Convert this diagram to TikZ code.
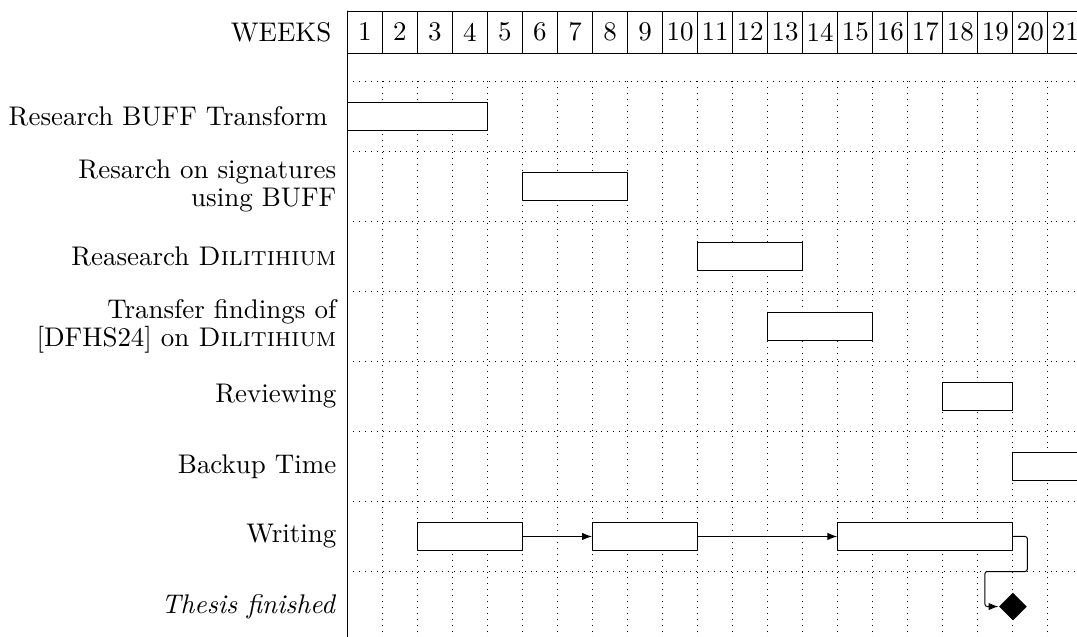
\documentclass[11pt,tikz,border=0pt]{standalone}
\usepackage{tikz}
\usetikzlibrary{arrows.meta}
\usetikzlibrary{shapes.geometric}
\tikzstyle{bar} = [draw, fill=white, inner sep=0pt, minimum height=0.4cm]
\tikzstyle{milestone} = [diamond, fill=black, inner sep=0pt, minimum width=0.4cm, minimum height=0.4cm]
\tikzstyle{task} = [anchor=east, align=right, inner sep=0pt, font=\fontsize{10.95pt}{11.5pt}\selectfont]
\tikzstyle{link} = [-{Latex[length=4pt]}, rounded corners=1pt]
\tikzstyle{gridline} = [dotted, line cap=butt]

\begin{document}
\begin{tikzpicture}[line cap=round, line join=round]
      \clip(-4.957,0.157) rectangle (10.415,-8.921);
      % title row
      \node[anchor=east, inner sep=0pt] (weeks) at (-0.22,-0.3) {WEEKS};
      \foreach \w in {1,...,21} {
        \draw ({(\w-1)*0.5},0) rectangle ({\w*0.5},-0.6);
        \node (wk\w) at ({(\w-0.5)*0.5},-0.3) {\w};
      }
      % grid
      \foreach \y in {1,...,8}
        \draw [gridline] (0,-\y) -- (10.5,-\y);
      \foreach \x in {1,...,20}
        \draw [gridline] ({\x*0.5},-1) -- ({\x*0.5},-9);
      \draw (0,0) -- (0,-9);
      % tasks
      \node[task] (t1) at (-0.275,-1.5) {Research BUFF Transform};
      \node[task] (t2) at (-0.15,-2.5) {Resarch on signatures\\ using BUFF};
      \node[task] (t3) at (-0.15,-3.5) {Reasearch \textsc{Dilitihium}};
      \node[task] (t4) at (-0.15,-4.5) {Transfer findings of\\ {[DFHS24]} on \textsc{Dilitihium}};
      \node[task] (t5) at (-0.15,-5.5) {Reviewing};
      \node[task] (t6) at (-0.15,-6.5) {Backup Time};
      \node[task] (t7) at (-0.15,-7.5) {Writing};
      \node[task] (t8) at (-0.15,-8.5) {\textit{Thesis finished}};
      % bars
      \node[bar, minimum width=2cm] (buff) at (1,-1.5) {};
      \node[bar, minimum width=1.5cm] (sig) at (3.25,-2.5) {};
      \node[bar, minimum width=1.5cm] (dil) at (5.75,-3.5) {};
      \node[bar, minimum width=1.5cm] (transfer) at (6.75,-4.5) {};
      \node[bar, minimum width=1cm] (review) at (9,-5.5) {};
      \node[bar, minimum width=1cm] (backup) at (10,-6.5) {};
      \node[bar, minimum width=1.5cm] (write1) at (1.75,-7.5) {};
      \node[bar, minimum width=1.5cm] (write2) at (4.25,-7.5) {};
      \node[bar, minimum width=2.5cm] (write3) at (8.25,-7.5) {};
      \node[milestone] (done) at (9.5,-8.5) {};
      % links
      \coordinate (bend) at (9.1,-8);
      \draw [link] (write1.east) -- (write2.west);
      \draw [link] (write2.east) -- (write3.west);
      \draw [link] (write3.east) -- ++(0.2,0) |- (bend) |- (done.west);
    \end{tikzpicture}
\end{document}
